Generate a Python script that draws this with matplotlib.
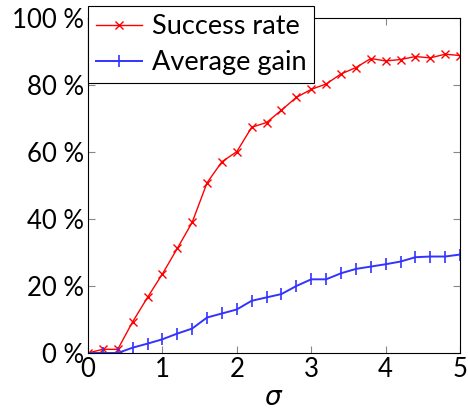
import matplotlib
matplotlib.use("Agg")
from matplotlib import pyplot as plt
from matplotlib.ticker import FuncFormatter

# sigma values and measured rates (percent)
sigma = [0.0, 0.2, 0.4, 0.6, 0.8, 1.0, 1.2, 1.4, 1.6, 1.8, 2.0, 2.2, 2.4,
         2.6, 2.8, 3.0, 3.2, 3.4, 3.6, 3.8, 4.0, 4.2, 4.4, 4.6, 4.8, 5.0]
success_rate = [0.0, 1.1, 1.1, 9.3, 16.6, 23.6, 31.2, 39.0, 50.8, 57.1, 60.1,
                67.4, 68.8, 72.5, 76.3, 78.7, 80.3, 83.3, 85.2, 87.9, 87.2,
                87.6, 88.5, 88.1, 89.2, 88.8]
average_gain = [0.0, 0.0, 0.0, 1.6, 2.8, 4.1, 5.8, 7.3, 10.6, 11.8, 13.0,
                15.6, 16.6, 17.6, 20.0, 22.0, 22.0, 23.8, 25.1, 25.8, 26.5,
                27.3, 28.6, 28.8, 28.8, 29.4]

plt.rcParams['font.family'] = ['Lato', 'DejaVu Sans']
plt.rcParams['mathtext.fontset'] = 'dejavusans'

fig = plt.figure(figsize=(4.68, 4.16), dpi=100)
ax = fig.add_axes([0.188, 0.1514, 0.795, 0.8053])

ax.plot(sigma, success_rate, color='#ff0000', lw=1.0, marker='x', ms=6,
        mew=1.0, label='Success rate')
ax.plot(sigma, average_gain, color='#3333ff', lw=1.4, marker='|', ms=9,
        mew=1.2, label='Average gain')

ax.set_xlim(0, 5)
ax.set_ylim(0, 100)
ax.set_xticks([0, 1, 2, 3, 4, 5])
ax.set_yticks([0, 20, 40, 60, 80, 100])
ax.yaxis.set_major_formatter(FuncFormatter(lambda v, p: '%d %%' % v))
ax.tick_params(direction='in', top=True, right=True, length=5, width=0.8,
               color='#888888', labelsize=18.5, pad=3)
for s in ax.spines.values():
    s.set_linewidth(0.8)
ax.set_xlabel(r'$\sigma$', fontsize=19, labelpad=2)

leg = ax.legend(loc='upper left', bbox_to_anchor=(0.0, 1.035), fontsize=19.5,
                fancybox=False, edgecolor='black', framealpha=1,
                borderpad=0.3, handlelength=1.7, handletextpad=0.35,
                labelspacing=0.4, borderaxespad=0)
leg.get_frame().set_linewidth(0.8)

fig.savefig('out.png', dpi=100)
